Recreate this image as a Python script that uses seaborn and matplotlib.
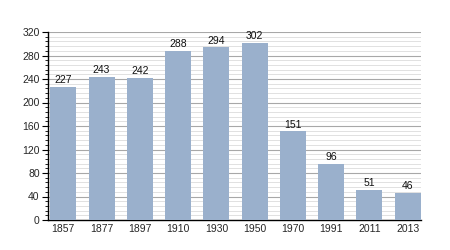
import matplotlib
matplotlib.use("Agg")
import matplotlib.pyplot as plt
import seaborn as sns
import pandas as pd
from matplotlib.ticker import MultipleLocator

years = ["1857", "1877", "1897", "1910", "1930", "1950", "1970", "1991", "2011", "2013"]
population = [227, 243, 242, 288, 294, 302, 151, 96, 51, 46]

df = pd.DataFrame({"year": years, "pop": population})

sns.set_style("white")
plt.rcParams["font.family"] = ["Liberation Sans", "DejaVu Sans"]

fig = plt.figure(figsize=(4.5, 2.5), dpi=100)
ax = fig.add_axes([48/450, 30/250, (421-48)/450, (220-32)/250])

sns.barplot(data=df, x="year", y="pop", color="#9ab0cc", saturation=1,
            width=0.68, ax=ax, zorder=3, linewidth=0, edgecolor="none")

for i, v in enumerate(population):
    ax.text(i, v + 3, str(v), ha="center", va="bottom", fontsize=7.5, color="#111111", zorder=4)

ax.set_ylim(0, 320)
ax.set_xlim(-0.4, 9.35)
ax.yaxis.set_major_locator(MultipleLocator(40))
ax.yaxis.set_minor_locator(MultipleLocator(8))
ax.grid(which="major", axis="y", color="#a8a8a8", linewidth=0.8, zorder=0)
ax.grid(which="minor", axis="y", color="#dcdcdc", linewidth=0.6, zorder=0)
ax.set_axisbelow(True)

for s in ["top", "right"]:
    ax.spines[s].set_visible(False)
for s in ["left", "bottom"]:
    ax.spines[s].set_color("black")
    ax.spines[s].set_linewidth(1.0)

ax.tick_params(axis="y", which="major", direction="out", length=4, width=0.8,
               labelsize=7.5, color="black", left=True, pad=2)
ax.tick_params(axis="y", which="minor", direction="out", length=2, width=0.6,
               color="black", left=True)
ax.tick_params(axis="x", length=0, labelsize=7.5, pad=3)
ax.set_xlabel("")
ax.set_ylabel("")

fig.savefig("out.png", dpi=100)
